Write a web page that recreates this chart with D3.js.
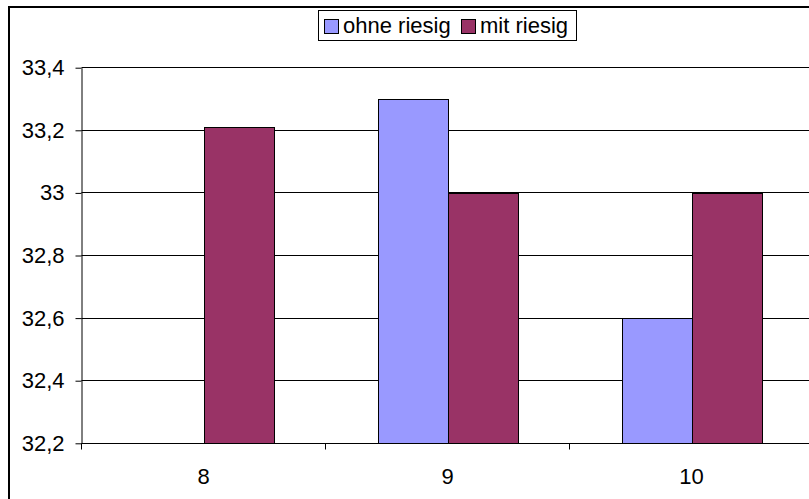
<!DOCTYPE html>
<html>
<head>
<meta charset="utf-8">
<script src="https://cdn.jsdelivr.net/npm/d3@7"></script>
<style>
  html, body { margin: 0; padding: 0; background: #fff; }
  svg { display: block; }
  text { font-family: "Liberation Sans", Arial, sans-serif; fill: #000; }
</style>
</head>
<body>
<svg id="chart" width="809" height="499"></svg>
<script>
// Categories on the x axis
const categories = ["8", "9", "10"];
// Series names (legend order)
const seriesNames = ["ohne riesig", "mit riesig"];
// Values per series, one entry per category (null = no value)
const ohneRiesig = [null, 33.3, 32.6];
const mitRiesig = [33.21, 33.0, 33.0];
// Y axis tick values
const yTicks = [32.2, 32.4, 32.6, 32.8, 33.0, 33.2, 33.4];

const seriesColors = ["#9999FF", "#993366"];
const seriesValues = [ohneRiesig, mitRiesig];

const svg = d3.select("#chart");
const W = 809, H = 499;
const plot = { left: 81.5, right: 813.5, top: 67.7, bottom: 443.3 };
const fontSize = 22;

// Outer chart frame (runs past the right and bottom edges)
svg.append("rect")
  .attr("x", 9).attr("y", 7)
  .attr("width", 900).attr("height", 600)
  .attr("fill", "#fff")
  .attr("stroke", "#000").attr("stroke-width", 2);

const x = d3.scaleBand().domain(categories).range([plot.left, plot.right]).padding(0);
const xs = d3.scaleBand().domain(seriesNames).range([0, x.bandwidth()])
  .paddingInner(0).paddingOuter(0.743);
const y = d3.scaleLinear().domain([32.2, 33.4]).range([plot.bottom, plot.top]);

const fmt = v => String(+v.toFixed(1)).replace(".", ",");
const crisp = v => Math.round(v - 0.5) + 0.5;

// Horizontal gridlines
svg.append("g").selectAll("line")
  .data(yTicks)
  .join("line")
  .attr("x1", plot.left).attr("x2", plot.right)
  .attr("y1", d => crisp(y(d))).attr("y2", d => crisp(y(d)))
  .attr("stroke", "#000").attr("stroke-width", 1);

// Bars
const rows = [];
seriesValues.forEach((vals, si) => {
  vals.forEach((v, ci) => {
    if (v !== null) rows.push({ cat: categories[ci], series: seriesNames[si], value: v, color: seriesColors[si] });
  });
});
svg.append("g").selectAll("rect")
  .data(rows)
  .join("rect")
  .attr("x", d => Math.round(x(d.cat) + xs(d.series)) + 0.5)
  .attr("y", d => Math.round(y(d.value)) + 0.5)
  .attr("width", xs.bandwidth())
  .attr("height", d => Math.round(plot.bottom) - Math.round(y(d.value)))
  .attr("fill", d => d.color)
  .attr("stroke", "#000").attr("stroke-width", 1);

// Y axis
const yAxis = d3.axisLeft(y).tickValues(yTicks).tickFormat(fmt)
  .tickSize(6).tickSizeOuter(0).tickPadding(11);
svg.append("g")
  .attr("transform", `translate(${crisp(plot.left)},0)`)
  .call(yAxis)
  .call(g => g.select(".domain").attr("stroke", "#000"))
  .call(g => g.selectAll(".tick line").attr("stroke", "#000"))
  .call(g => g.selectAll("text")
    .attr("font-size", fontSize)
    .attr("font-family", "Liberation Sans, Arial, sans-serif")
    .attr("fill", "#000"));

// X axis: baseline, boundary ticks and centered category labels
const xg = svg.append("g");
xg.append("line")
  .attr("x1", plot.left).attr("x2", plot.right)
  .attr("y1", crisp(plot.bottom)).attr("y2", crisp(plot.bottom))
  .attr("stroke", "#000");
const bounds = categories.map(c => x(c)).concat([x(categories[categories.length - 1]) + x.step()]);
xg.selectAll("line.tick")
  .data(bounds)
  .join("line")
  .attr("class", "tick")
  .attr("x1", d => crisp(d)).attr("x2", d => crisp(d))
  .attr("y1", crisp(plot.bottom)).attr("y2", crisp(plot.bottom) + 6)
  .attr("stroke", "#000");
xg.selectAll("text")
  .data(categories)
  .join("text")
  .attr("x", d => x(d) + x.bandwidth() / 2)
  .attr("y", plot.bottom + 40.5)
  .attr("text-anchor", "middle")
  .attr("font-size", fontSize)
  .text(d => d);

// Legend
const legend = svg.append("g");
legend.append("rect")
  .attr("x", 318.5).attr("y", 10.5)
  .attr("width", 258).attr("height", 30)
  .attr("fill", "#fff").attr("stroke", "#000");
const legendX = [324, 461];
seriesNames.forEach((name, i) => {
  legend.append("rect")
    .attr("x", legendX[i] + 0.5).attr("y", 19.5)
    .attr("width", 14).attr("height", 14)
    .attr("fill", seriesColors[i]).attr("stroke", "#000");
  legend.append("text")
    .attr("x", legendX[i] + 19).attr("y", 33)
    .attr("font-size", fontSize)
    .text(name);
});
</script>
</body>
</html>
